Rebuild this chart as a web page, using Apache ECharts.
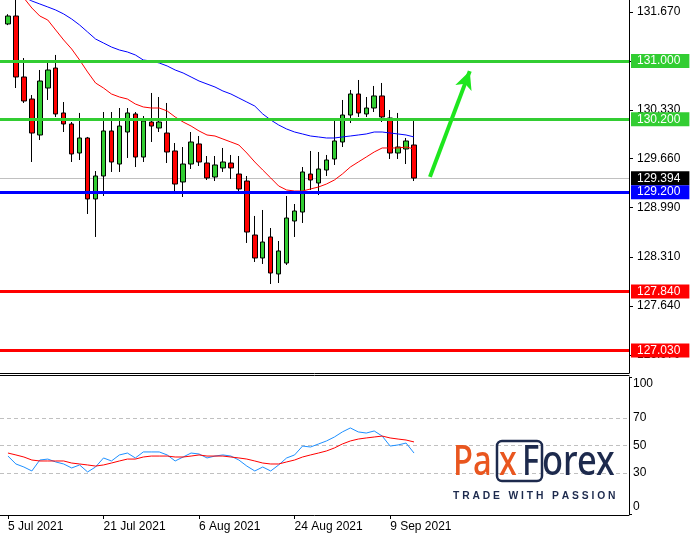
<!DOCTYPE html>
<html><head><meta charset="utf-8">
<script src="https://cdn.jsdelivr.net/npm/echarts@6/dist/echarts.min.js"></script>
<style>html,body{margin:0;padding:0;background:#fff}#c{width:691px;height:537px}</style>
</head><body><div id="c"></div>
<script>
const dates = ['5 Jul 2021','6 Jul 2021','7 Jul 2021','8 Jul 2021','9 Jul 2021','12 Jul 2021','13 Jul 2021','14 Jul 2021','15 Jul 2021','16 Jul 2021','19 Jul 2021','20 Jul 2021','21 Jul 2021','22 Jul 2021','23 Jul 2021','26 Jul 2021','27 Jul 2021','28 Jul 2021','29 Jul 2021','30 Jul 2021',
'2 Aug 2021','3 Aug 2021','4 Aug 2021','5 Aug 2021','6 Aug 2021','9 Aug 2021','10 Aug 2021','11 Aug 2021','12 Aug 2021','13 Aug 2021','16 Aug 2021','17 Aug 2021','18 Aug 2021','19 Aug 2021','20 Aug 2021','23 Aug 2021','24 Aug 2021','25 Aug 2021','26 Aug 2021','27 Aug 2021','30 Aug 2021','31 Aug 2021',
'1 Sep 2021','2 Sep 2021','3 Sep 2021','6 Sep 2021','7 Sep 2021','8 Sep 2021','9 Sep 2021','10 Sep 2021','13 Sep 2021','14 Sep 2021'];
const opens = [131.506,131.615,130.779,130.477,129.984,130.628,130.902,130.286,130.135,129.737,129.943,129.107,129.422,130.039,129.586,130.025,130.272,129.682,130.162,130.080,130.011,129.765,129.340,129.586,129.861,129.600,129.408,129.532,129.600,129.449,129.353,128.613,128.298,128.586,128.079,128.229,128.805,128.928,129.449,129.326,129.504,129.655,129.888,130.258,130.546,130.272,130.354,130.519,130.217,129.737,129.792,129.847];
const closes = [131.615,130.779,130.450,130.011,130.724,130.875,130.272,130.135,129.724,129.943,129.107,129.422,130.039,129.614,130.107,130.286,129.682,130.176,130.107,130.162,129.751,129.312,129.586,129.888,129.614,129.395,129.573,129.614,129.532,129.244,128.654,128.298,128.517,128.092,128.394,128.846,128.942,129.477,129.367,129.518,129.641,129.902,130.258,130.546,130.286,130.354,130.519,130.231,129.737,129.819,129.902,129.394];
const highs = [131.640,131.880,131.039,130.532,130.875,130.985,131.081,130.436,130.162,130.286,129.957,129.490,130.299,130.299,130.354,130.354,130.299,130.244,130.560,130.505,130.423,129.874,129.819,130.025,129.970,129.696,129.696,129.806,129.710,129.696,129.422,128.874,128.956,128.709,128.531,129.148,129.038,129.545,129.765,129.751,129.710,130.176,130.464,130.601,130.738,130.505,130.656,130.697,130.327,130.286,129.943,130.176];
const lows = [131.490,130.628,130.423,129.614,129.915,130.464,130.231,130.025,129.614,129.641,128.901,128.586,129.148,129.477,129.477,129.669,129.545,129.614,129.888,130.025,129.600,129.175,129.134,129.518,129.559,129.367,129.353,129.477,129.381,129.203,128.504,128.243,128.216,127.941,127.955,128.202,128.586,128.778,129.230,129.161,129.422,129.573,129.819,130.148,130.231,130.231,130.299,130.162,129.655,129.655,129.586,129.353];
const maFast = [132.191,132.026,131.862,131.725,131.615,131.560,131.423,131.286,131.163,131.012,130.848,130.697,130.628,130.546,130.505,130.477,130.409,130.368,130.354,130.354,130.313,130.231,130.162,130.107,130.039,129.984,129.970,129.929,129.888,129.847,129.737,129.614,129.504,129.395,129.285,129.230,129.216,129.216,129.244,129.271,129.312,129.367,129.449,129.545,129.614,129.682,129.751,129.806,129.806,129.806,129.819,129.792];
const maSlow = [131.972,131.930,131.876,131.821,131.780,131.739,131.697,131.643,131.574,131.492,131.396,131.300,131.245,131.190,131.149,131.122,131.081,131.012,130.998,130.971,130.930,130.875,130.834,130.779,130.724,130.683,130.642,130.587,130.546,130.491,130.436,130.381,130.272,130.190,130.121,130.066,130.025,129.998,129.970,129.957,129.943,129.943,129.957,129.970,129.984,129.998,130.025,130.025,130.011,129.998,129.984,129.957];
const rsi = [42.3,36.5,34.3,31.4,39.4,40.1,38.0,36.5,33.6,35.8,30.7,34.3,40.9,38.7,43.1,44.5,40.9,45.3,45.3,45.3,43.1,38.7,41.6,44.5,43.8,40.9,42.3,43.1,42.3,39.4,35.0,31.4,34.3,31.4,35.8,40.9,43.1,49.6,48.9,51.1,53.3,56.2,59.9,62.8,59.9,59.1,60.6,56.9,49.6,50.4,51.8,44.5];
const rsiSignal = [44.5,43.1,41.6,39.4,38.7,38.7,38.7,38.7,37.2,36.5,35.8,35.0,35.8,37.2,38.7,40.1,40.1,41.6,42.3,42.3,42.3,41.6,41.6,42.3,43.1,42.3,42.3,42.3,41.6,40.9,40.1,38.7,37.2,36.5,36.5,38.0,39.4,41.6,43.1,44.5,46.0,48.2,51.1,53.3,54.7,55.5,56.2,56.9,55.5,54.7,54.0,52.6];
const priceTicks = [131.67,131.0,130.33,129.66,128.99,128.31,127.64,126.97];
const rsiTicks = [0,30,50,70,100];
const rsiLevels = [30,50,70];
const dateLabels = ['5 Jul 2021','21 Jul 2021','6 Aug 2021','24 Aug 2021','9 Sep 2021'];
const greenLevels = [131.0,130.2];
const blueLevels = [129.2];
const redLevels = [127.84,127.03];
const lastPrice = 129.394;
const arrowFrom = [54,129.41];
const arrowTo = [59,130.86];

const FONT = '"Liberation Sans", Arial, sans-serif';
const padBefore = 1, padAfter = 27;
const cats = [];
for (let i = 0; i < padBefore; i++) cats.push('padL' + i);
dates.forEach(d => cats.push(d));
for (let i = 0; i < padAfter; i++) cats.push('padR' + i);
const EMPTY4 = ['-','-','-','-'];
const candleData = [];
for (let i = 0; i < padBefore; i++) candleData.push(EMPTY4);
for (let i = 0; i < dates.length; i++) candleData.push([opens[i], closes[i], lows[i], highs[i]]);
const padLine = arr => { const out = []; for (let i = 0; i < padBefore; i++) out.push('-'); return out.concat(arr); };
const showDate = (idx, val) => dateLabels.indexOf(val) >= 0;

function level(v, color) {
  return { yAxis: v, name: v.toFixed(3), lineStyle: { color: color, width: 3, type: 'solid' },
    label: { backgroundColor: color } };
}
const levelData = [].concat(
  greenLevels.map(v => level(v, '#32CD32')),
  blueLevels.map(v => level(v, '#0000FF')),
  redLevels.map(v => level(v, '#FF0000'))
);
const labelBase = { show: true, position: 'end', distance: 2, color: '#fff', fontSize: 12, fontFamily: FONT,
  padding: [1, 9, 1, 6], formatter: '{b}' };

const chart = echarts.init(document.getElementById('c'), null, { renderer: 'canvas' });
chart.setOption({
  animation: false,
  backgroundColor: '#fff',
  textStyle: { fontFamily: FONT },
  grid: [
    { left: -3, right: 62, top: 0, height: 373 },
    { left: -3, right: 62, top: 377, height: 137 }
  ],
  xAxis: [
    { type: 'category', gridIndex: 0, data: cats, boundaryGap: false,
      axisLine: { show: true, onZero: false, lineStyle: { color: '#000' } },
      axisTick: { show: false }, axisLabel: { show: false }, splitLine: { show: false } },
    { type: 'category', gridIndex: 1, data: cats, boundaryGap: false, position: 'bottom', offset: 1,
      axisLine: { show: true, onZero: false, lineStyle: { color: '#000' } },
      axisTick: { show: true, interval: showDate, length: 4, lineStyle: { color: '#000' } },
      axisLabel: { show: true, interval: showDate, align: 'left', margin: 6, color: '#000', fontSize: 12, fontFamily: FONT },
      splitLine: { show: false } },
    { type: 'category', gridIndex: 1, data: cats, boundaryGap: false, position: 'top', offset: 2,
      axisLine: { show: true, onZero: false, lineStyle: { color: '#000' } },
      axisTick: { show: false }, axisLabel: { show: false }, splitLine: { show: false } }
  ],
  yAxis: [
    { type: 'value', gridIndex: 0, position: 'right', min: 126.7214, max: 131.8345, scale: true,
      splitLine: { show: false },
      axisLine: { show: true, lineStyle: { color: '#000' } },
      axisTick: { show: true, length: 4, customValues: priceTicks, lineStyle: { color: '#000' } },
      axisLabel: { show: true, customValues: priceTicks, margin: 8, color: '#000', fontSize: 12, fontFamily: FONT,
        formatter: v => Number(v).toFixed(3) } },
    { type: 'value', gridIndex: 1, position: 'right', min: 0, max: 100,
      splitLine: { show: false },
      axisLine: { show: true, lineStyle: { color: '#000' } },
      axisTick: { show: true, length: 3, customValues: [0, 100], lineStyle: { color: '#000' } },
      axisLabel: { show: true, customValues: rsiTicks, margin: 4, color: '#000', fontSize: 12, fontFamily: FONT,
        formatter: v => v === 100 ? '{t|100}' : (v === 0 ? '{b|0}' : String(v)),
        rich: { t: { padding: [14, 0, 0, 0], fontSize: 12, color: '#000' }, b: { padding: [0, 0, 14, 0], fontSize: 12, color: '#000' } } } }
  ],
  graphic: [
    { type: 'text', x: 453, y: 463, scaleX: 0.78, z: 100, style: { text: 'Pa', fill: '#E9561F', font: '500 42px "Noto Sans"', verticalAlign: 'middle' } },
    { type: 'text', x: 499, y: 463, scaleX: 0.78, z: 100, style: { text: 'x', fill: '#E9561F', font: '500 42px "Noto Sans"', verticalAlign: 'middle' } },
    { type: 'text', x: 522, y: 463, scaleX: 0.78, z: 100, style: { text: 'F', fill: '#1D2A4D', font: '500 42px "Noto Sans"', verticalAlign: 'middle' } },
    { type: 'text', x: 542, y: 463, scaleX: 0.82, z: 100, style: { text: 'orex', fill: '#1D2A4D', font: '500 42px "Noto Sans"', verticalAlign: 'middle' } },
    { type: 'rect', z: 99, shape: { x: 497, y: 441, width: 45, height: 40, r: 5 }, style: { fill: 'none', stroke: '#1D2A4D', lineWidth: 2.5 } },
    { type: 'text', x: 453, y: 496, z: 100, style: { text: 'T R A D E   W I T H   P A S S I O N', fill: '#1D2A4D', font: 'bold 10.3px "Liberation Sans"', verticalAlign: 'middle' } }
  ],
  series: [
    { type: 'candlestick', name: 'price', xAxisIndex: 0, yAxisIndex: 0, z: 2, barWidth: 5, silent: true,
      data: candleData,
      itemStyle: { color: '#32CD32', color0: '#FF0000', borderColor: '#000', borderColor0: '#000', borderWidth: 1 },
      markLine: { silent: true, z: 5, symbol: ['none', 'none'], animation: false,
        label: labelBase, data: levelData } },
    { type: 'line', name: 'maFast', xAxisIndex: 0, yAxisIndex: 0, z: 3, data: padLine(maFast), symbol: 'none', silent: true,
      lineStyle: { color: '#FF0000', width: 1 },
      markLine: { silent: true, z: 6, symbol: ['none', 'arrow'], symbolSize: [13, 18], animation: false,
        label: { show: false }, lineStyle: { color: '#1EE61E', width: 4, type: 'solid' },
        data: [[{ coord: arrowFrom }, { coord: arrowTo }]] } },
    { type: 'line', name: 'maSlow', xAxisIndex: 0, yAxisIndex: 0, z: 3, data: padLine(maSlow), symbol: 'none', silent: true,
      lineStyle: { color: '#0000FF', width: 1 },
      markLine: { silent: true, z: 1, symbol: ['none', 'none'], animation: false,
        label: Object.assign({}, labelBase, { backgroundColor: '#000' }),
        lineStyle: { color: '#C0C0C0', width: 1, type: 'solid' },
        data: [{ yAxis: lastPrice, name: lastPrice.toFixed(3) }] } },
    { type: 'line', name: 'rsi', xAxisIndex: 1, yAxisIndex: 1, z: 3, data: padLine(rsi), symbol: 'none', silent: true,
      lineStyle: { color: '#1E90FF', width: 1 },
      markLine: { silent: true, z: 1, symbol: ['none', 'none'], animation: false, label: { show: false },
        lineStyle: { color: '#C0C0C0', width: 1, type: [4, 3] },
        data: rsiLevels.map(v => ({ yAxis: v })) } },
    { type: 'line', name: 'rsiSignal', xAxisIndex: 1, yAxisIndex: 1, z: 3, data: padLine(rsiSignal), symbol: 'none', silent: true,
      lineStyle: { color: '#FF0000', width: 1 } }
  ]
});
</script></body></html>
